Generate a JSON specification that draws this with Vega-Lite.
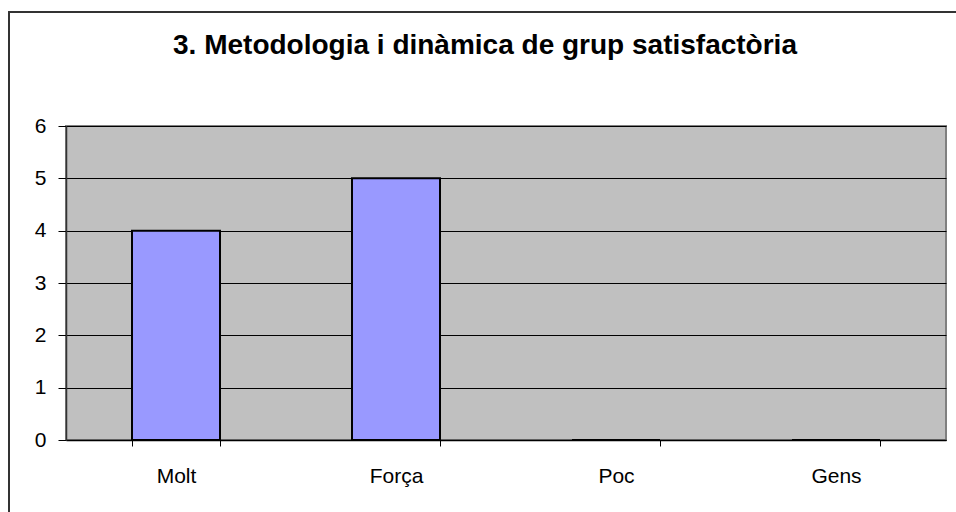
{
  "$schema": "https://vega.github.io/schema/vega-lite/v6.json",
  "width": 880,
  "height": 314,
  "autosize": "none",
  "padding": {"left": 66, "top": 126, "right": 10, "bottom": 72},
  "background": "white",
  "title": {
    "text": "3. Metodologia i dinàmica de grup satisfactòria",
    "font": "Liberation Sans",
    "fontSize": 28,
    "fontWeight": "bold",
    "color": "black",
    "anchor": "middle",
    "frame": "group",
    "baseline": "alphabetic",
    "dx": -21,
    "offset": -71
  },
  "data": {
    "values": [
      {"categoria": "Molt", "valor": 4},
      {"categoria": "Força", "valor": 5},
      {"categoria": "Poc", "valor": 0},
      {"categoria": "Gens", "valor": 0}
    ]
  },
  "config": {
    "view": {"fill": "#C0C0C0", "stroke": "#808080", "strokeWidth": 2}
  },
  "layer": [
    {
      "mark": {"type": "rect", "fill": null, "stroke": "#333333", "strokeWidth": 1.5},
      "encoding": {
        "x": {"value": -57},
        "x2": {"value": 1000},
        "y": {"value": -114},
        "y2": {"value": 600}
      }
    },
    {
      "mark": {"type": "bar", "fill": "#9999FF", "stroke": "black", "strokeWidth": 2},
      "encoding": {
        "x": {
          "field": "categoria",
          "type": "nominal",
          "sort": ["Molt", "Força", "Poc", "Gens"],
          "scale": {"paddingInner": 0.6, "paddingOuter": 0.3},
          "axis": {
            "title": null,
            "labelAngle": 0,
            "labelFont": "Liberation Sans",
            "labelFontSize": 21,
            "labelColor": "black",
            "tickBand": "extent",
            "tickSize": 6,
            "tickColor": "black",
            "labelPadding": 19,
            "domainWidth": 1.5,
            "domainColor": "black"
          }
        },
        "y": {
          "field": "valor",
          "type": "quantitative",
          "scale": {"domain": [0, 6]},
          "axis": {
            "title": null,
            "values": [0, 1, 2, 3, 4, 5, 6],
            "labelFont": "Liberation Sans",
            "labelFontSize": 21,
            "labelColor": "black",
            "tickSize": 8,
            "tickColor": "black",
            "labelPadding": 12,
            "domainWidth": 1.5,
            "domainColor": "#333333",
            "gridColor": "black",
            "gridOpacity": 1
          }
        }
      }
    }
  ]
}
